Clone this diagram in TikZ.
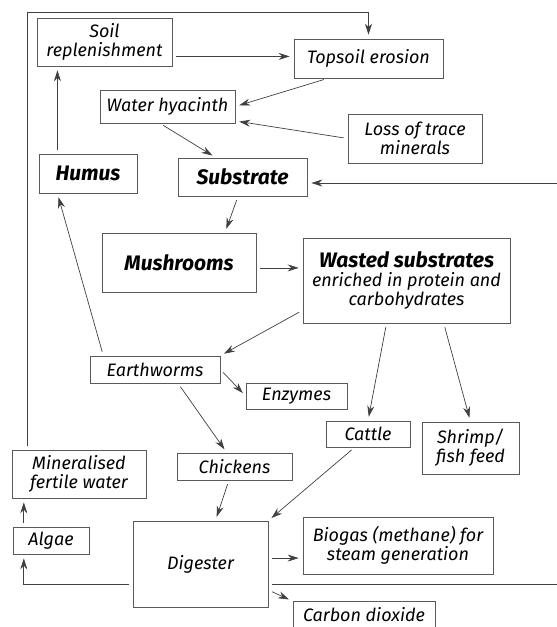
\documentclass[tikz,border=0pt]{standalone}
\usepackage{fontspec}
\setsansfont{Fira Sans}
\usetikzlibrary{positioning,arrows.meta}
\tikzset{
	>={Stealth[length=11pt,width=7pt]}
}

\begin{document}
\begin{tikzpicture}[
x = 1pt, y = -1pt,
every node/.style = {
	font = \sffamily\itshape\fontsize{18}{19}\selectfont
},
box title/.style = {
	font = \sffamily\bfseries\itshape\fontsize{21}{22}\selectfont
},
box/.style = {
	draw = black!65,
	line width = 0.7pt,
	inner sep = 0pt,
	align = center
},
flow/.style = {
	->,
	black!75,
	line width = 0.7pt,
	shorten < = 4pt,
	shorten > = 4pt
}
]
\useasboundingbox (0,0) rectangle (557,627);

\node [box, minimum width=135pt, minimum height=48pt] (soil) at (104.5,42) {Soil\\replenishment};
\node [box, minimum width=149pt, minimum height=39pt] (topsoil) at (368.5,58.5) {Topsoil erosion};
\node [box, minimum width=135pt, minimum height=33pt] (hyacinth) at (167.5,106.5) {Water hyacinth};
\node [box, minimum width=134pt, minimum height=49pt] (loss) at (415,138.5) {Loss of trace\\minerals};
\node [box, box title, minimum width=98pt, minimum height=39pt] (humus) at (88,173.5) {Humus};
\node [box, box title, minimum width=129pt, minimum height=38pt] (substrate) at (242.5,177) {Substrate};
\node [box, box title, minimum width=154pt, minimum height=59pt] (mushrooms) at (179,262.5) {Mushrooms};
\node [box, minimum width=207pt, minimum height=85pt] (wasted) at (406.5,280.5)
	{{\bfseries\fontsize{21}{19}\selectfont Wasted substrates}\\enriched in protein and\\carbohydrates};
\node [box, minimum width=130pt, minimum height=27pt] (earthworms) at (155,369.5) {Earthworms};
\node [box, minimum width=101pt, minimum height=26pt] (enzymes) at (296.5,396) {Enzymes};
\node [box, minimum width=84pt, minimum height=26pt] (cattle) at (368,434) {Cattle};
\node [box, minimum width=97pt, minimum height=52pt] (shrimp) at (470.5,448) {Shrimp/\\fish feed};
\node [box, minimum width=134pt, minimum height=48pt] (mineral) at (79,474) {Mineralised\\fertile water};
\node [box, minimum width=115pt, minimum height=27pt] (chickens) at (234.5,466.5) {Chickens};
\node [box, minimum width=76pt, minimum height=27pt] (algae) at (51,540.5) {Algae};
\node [box, minimum width=135pt, minimum height=86pt] (digester) at (200.5,564) {Digester};
\node [box, minimum width=190pt, minimum height=57pt] (biogas) at (398,545.5) {Biogas (methane) for\\steam generation};
\node [box, minimum width=142pt, minimum height=26pt] (co2) at (364,614.5) {Carbon dioxide};

\coordinate (topleft) at (27,12);
\coordinate (farright) at (580,183);

\draw[flow] (mineral.north -| topleft) -- (topleft) -| (topsoil);
\draw[flow] (soil.-12) -- (soil.-12 -| topsoil.west);
\draw[flow] (humus.147) -- (humus.147 |- soil.south);
\draw[flow] (topsoil.206) -- (hyacinth.east);
\draw[flow] (loss.west) -- (hyacinth.-12);
\draw[flow] (hyacinth.246) -- (substrate.144);
\draw[flow] (substrate.257) -- (mushrooms.33);
\draw[flow] (mushrooms.-4) -- (mushrooms.-4 -| wasted.west);
\draw[flow] (wasted.196) -- (earthworms.north east);
\draw[flow] (earthworms.165) -- (humus.213);
\draw[flow] (earthworms.east) -- (enzymes.west);
\draw[flow] (earthworms.-31) -- (chickens.119);
\draw[flow] (wasted.245) -- (cattle.north);
\draw[flow] (wasted.-49) -- (shrimp.north);
\draw[flow] (chickens.248) -- (digester.71);
\draw[flow] (cattle.225) -- (digester.north east);
\draw[flow] (algae.153) -- (algae.153 |- mineral.south);
\draw[flow] (digester.197) -| (algae.207);
\draw[flow] (digester.5) -- (digester.5 -| biogas.west);
\draw[flow] (digester.-21) -- (co2.north west);
\draw[flow] (digester.-17) -| (farright) -- (farright -| substrate.east);

\end{tikzpicture}
\end{document}
